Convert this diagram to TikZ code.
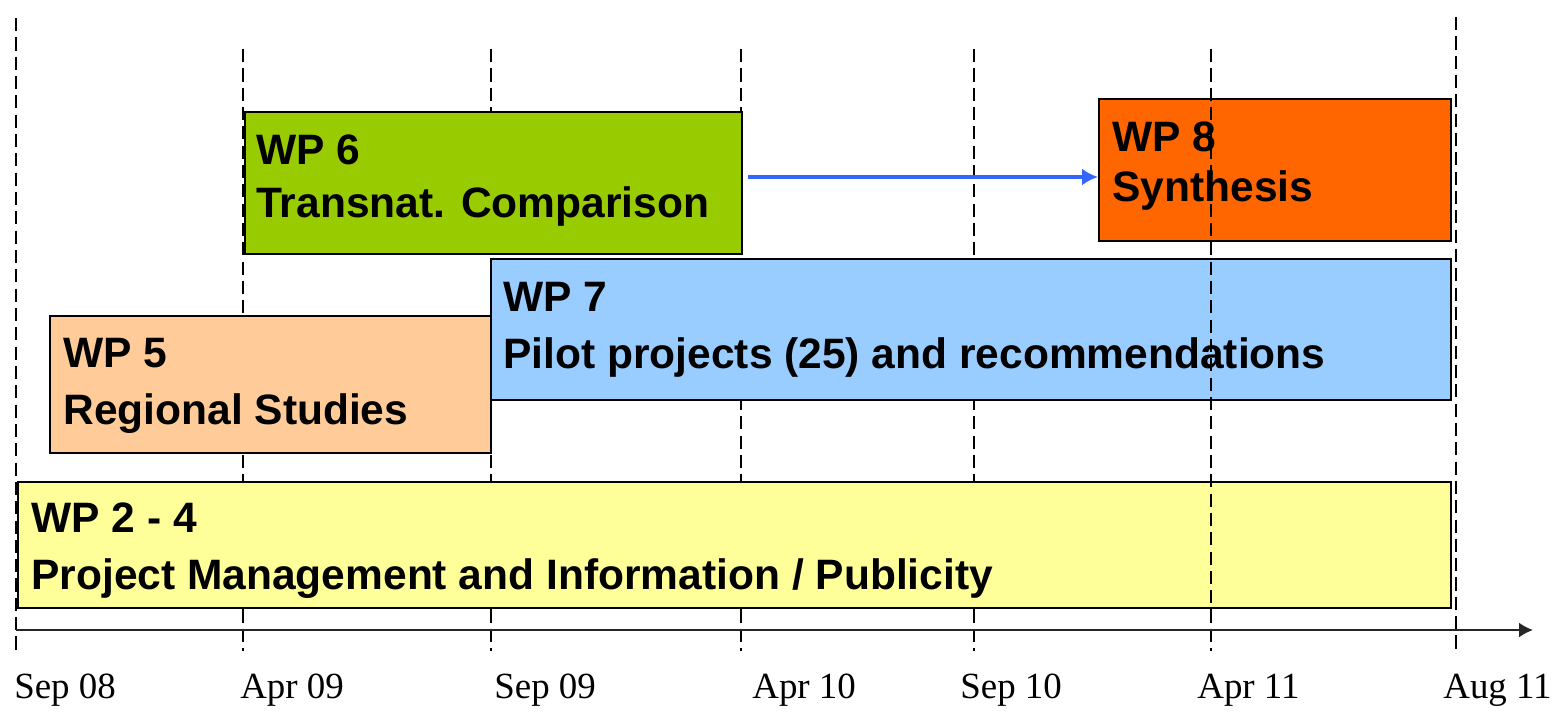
\documentclass[tikz,border=0pt]{standalone}
\usepackage{fontspec}
\setmainfont{Liberation Serif}
\setsansfont{Liberation Sans}
\usetikzlibrary{arrows.meta,fit}

\definecolor{wpYellow}{HTML}{FFFF99}
\definecolor{wpPeach}{HTML}{FFCC99}
\definecolor{wpGreen}{HTML}{99CC00}
\definecolor{wpBlue}{HTML}{99CCFF}
\definecolor{wpOrange}{HTML}{FF6600}
\definecolor{linkBlue}{HTML}{3366FF}

\tikzset{%
  >={Latex[width=0.34cm,length=0.32cm]},
  % Specifications for style of nodes:
     base/.style = {rectangle, draw=black, line width=1.1pt, inner sep=0pt},
    workPackage/.style = {base, fill=#1},
    wpText/.style = {anchor=base west, inner sep=0pt, align=left,
                     font=\sffamily\bfseries\fontsize{24.2}{#1}\selectfont},
    dateLabel/.style = {anchor=base west, inner sep=0pt,
                        font=\rmfamily\fontsize{21}{25}\selectfont},
    monthLine/.style = {line width=1.1pt, dash pattern=on 7.5pt off 3.5pt},
}

\begin{document}
\begin{tikzpicture}[x=0.02cm, y=-0.02cm]
  \useasboundingbox (0,0) rectangle (1557,714);

  % month lines behind the work packages
  \foreach \x/\top in {16/18, 243/49, 491/49, 741/49, 974/49, 1456/17}
    \draw[monthLine] (\x,\top) -- (\x,651);

  % Specification of work package boxes
  \node (wpTwoFour) [workPackage=wpYellow, fit={(18,482) (1451,608)}] {};
  \node (wpFive)    [workPackage=wpPeach,  fit={(50,316) (491,453)}] {};
  \node (wpSix)     [workPackage=wpGreen,  fit={(245,112) (742,254)}] {};
  \node (wpSeven)   [workPackage=wpBlue,   fit={(491,259) (1451,400)}] {};
  \node (wpEight)   [workPackage=wpOrange, fit={(1099,99) (1451,241)}] {};

  % texts, placed on the baseline of their last line
  \node (wpTwoFourText) [wpText=31.9pt] at (31,589)
        {WP 2 - 4\\Project Management and Information / Publicity};
  \node (wpFiveText)    [wpText=32.4pt] at (63,424) {WP 5\\Regional Studies};
  \node (wpSixText)     [wpText=30.1pt] at (256,217) {WP 6\\Transnat. Comparison};
  \node (wpSevenText)   [wpText=31.9pt] at (503,368)
        {WP 7\\Pilot projects (25) and recommendations};
  \node (wpEightText)   [wpText=28.4pt] at (1112,201) {WP 8\\Synthesis};

  % month line in front of the boxes
  \draw[monthLine] (1211,49) -- (1211,651);

  % time axis
  \coordinate (axisStart) at (16,630);
  \coordinate (axisEnd)   at (1533,630);
  \draw[-{Latex[width=0.3cm,length=0.28cm]}, line width=1.1pt, black!85]
       (axisStart) -- (axisEnd);

  % dates
  \node (sepEight)  [dateLabel] at (14,698)   {Sep 08};
  \node (aprNine)   [dateLabel] at (240,698)  {Apr 09};
  \node (sepNine)   [dateLabel] at (494,698)  {Sep 09};
  \node (aprTen)    [dateLabel] at (752,698)  {Apr 10};
  \node (sepTen)    [dateLabel] at (960,698)  {Sep 10};
  \node (aprEleven) [dateLabel] at (1197,698) {Apr 11};
  \node (augEleven) [dateLabel] at (1443,698) {Aug 11};

  % link between WP 6 and WP 8
  \coordinate (linkLevel) at (0,177);
  \draw[->, linkBlue, line width=2.2pt, shorten <=0.1cm]
       (wpSix.east |- linkLevel) -- (wpEight.west |- linkLevel);

\end{tikzpicture}
\end{document}
